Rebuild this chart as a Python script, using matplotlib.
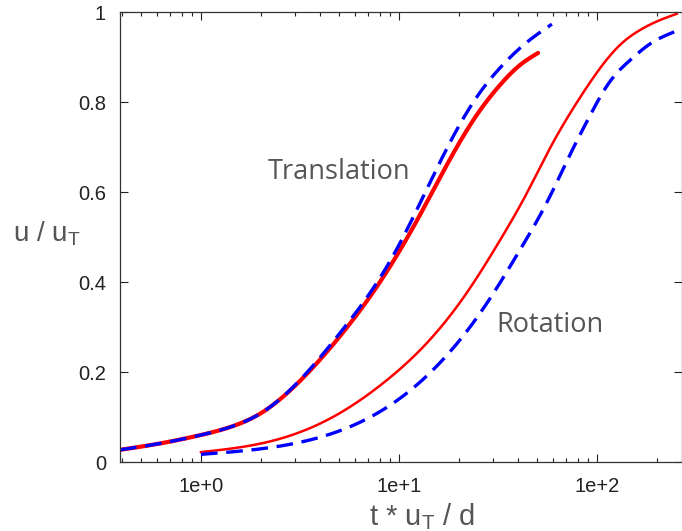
import numpy as np
import matplotlib
matplotlib.use("Agg")
from matplotlib import pyplot as plt, ticker

# translation, red solid (thick)
trans_red_t = [0.39, 0.6, 1.0, 1.5, 2.0, 3.16, 5.0, 8.3, 12.8, 19.6, 25.7, 32.4, 40.8, 50.4]
trans_red_u = [0.027, 0.04, 0.06, 0.082, 0.108, 0.18, 0.278, 0.41, 0.55, 0.70, 0.782, 0.838, 0.882, 0.909]

# translation, blue dashed
trans_blue_t = [0.39, 0.6, 1.0, 1.5, 2.0, 3.16, 5.0, 8.3, 10.5, 14.3, 18.7, 24.7, 32.4, 44.3, 59.2]
trans_blue_u = [0.027, 0.04, 0.06, 0.082, 0.108, 0.182, 0.285, 0.42, 0.50, 0.62, 0.722, 0.811, 0.876, 0.933, 0.973]

# rotation, red solid (thin)
rot_red_t = [1.0, 2.15, 4.64, 8.3, 13.2, 22.0, 32.4, 44.3, 56.7, 82.1, 103.6, 130.8, 165, 208, 253]
rot_red_u = [0.022, 0.044, 0.10, 0.175, 0.255, 0.376, 0.493, 0.598, 0.69, 0.81, 0.875, 0.927, 0.96, 0.982, 0.996]

# rotation, blue dashed
rot_blue_t = [1.0, 2.15, 4.64, 8.3, 14.8, 27.8, 40.8, 55.7, 73.1, 92.2, 116, 147, 185, 246]
rot_blue_u = [0.017, 0.031, 0.064, 0.116, 0.204, 0.353, 0.471, 0.576, 0.683, 0.77, 0.845, 0.893, 0.929, 0.956]

x_ticks = [1, 10, 100]
x_tick_labels = ["1e+0", "1e+1", "1e+2"]
y_ticks = [0, 0.2, 0.4, 0.6, 0.8, 1]
y_tick_labels = ["0", "0.2", "0.4", "0.6", "0.8", "1"]


def spline(t, u, n=400):
    # natural cubic spline through the read points, in log10(t)
    x = np.log10(np.asarray(t, float))
    y = np.asarray(u, float)
    k = len(x)
    h = np.diff(x)
    A = np.zeros((k, k))
    b = np.zeros(k)
    A[0, 0] = A[-1, -1] = 1
    for i in range(1, k - 1):
        A[i, i - 1] = h[i - 1]
        A[i, i] = 2 * (h[i - 1] + h[i])
        A[i, i + 1] = h[i]
        b[i] = 6 * ((y[i + 1] - y[i]) / h[i] - (y[i] - y[i - 1]) / h[i - 1])
    M = np.linalg.solve(A, b)
    xs = np.linspace(x[0], x[-1], n)
    i = np.clip(np.searchsorted(x, xs) - 1, 0, k - 2)
    a = x[i + 1] - xs
    c = xs - x[i]
    ys = (M[i] * a**3 + M[i + 1] * c**3) / (6 * h[i]) \
        + (y[i] / h[i] - M[i] * h[i] / 6) * a + (y[i + 1] / h[i] - M[i + 1] * h[i] / 6) * c
    return 10 ** xs, ys


fig = plt.figure(figsize=(6.82, 5.31), dpi=100)
ax = fig.add_axes([120 / 682, 69 / 531, 562 / 682, 450 / 531])

dash = (0, (5, 2.6))
x, y = spline(trans_red_t, trans_red_u)
ax.plot(x, y, color="#ff0000", lw=3.0, solid_capstyle="round")
x, y = spline(trans_blue_t, trans_blue_u)
ax.plot(x, y, color="#0000ff", lw=2.4, linestyle=dash)
x, y = spline(rot_red_t, rot_red_u)
ax.plot(x, y, color="#ff0000", lw=1.8)
x, y = spline(rot_blue_t, rot_blue_u)
ax.plot(x, y, color="#0000ff", lw=2.4, linestyle=dash)

ax.set_xscale("log")
ax.set_xlim(0.39, 268.7)
ax.set_ylim(0, 1)

ax.xaxis.set_major_locator(ticker.FixedLocator(x_ticks))
ax.xaxis.set_major_formatter(ticker.FixedFormatter(x_tick_labels))
ax.xaxis.set_minor_locator(ticker.LogLocator(base=10, subs=np.arange(2, 10)))
ax.xaxis.set_minor_formatter(ticker.NullFormatter())
ax.set_yticks(y_ticks)
ax.set_yticklabels(y_tick_labels)

ax.tick_params(which="both", direction="in", top=True, right=True, labelsize=14.5,
               colors="#222222", width=0.8)
ax.tick_params(axis="x", pad=11)
ax.tick_params(axis="y", pad=10)
ax.tick_params(which="major", length=6)
ax.tick_params(which="minor", length=3)
for lab in ax.get_xticklabels() + ax.get_yticklabels():
    lab.set_fontfamily("Liberation Sans")
for s in ax.spines.values():
    s.set_linewidth(0.9)
    s.set_color("#333333")

ax.set_xlabel(r"t * u$_\mathregular{T}$ / d", fontsize=21, color="#555555",
              family="Liberation Sans", va="baseline")
ax.xaxis.set_label_coords((422 - 120) / 562, -(525 - 462) / 450)
ax.set_ylabel(r"u / u$_\mathregular{T}$", fontsize=20, color="#555555",
              family="Liberation Sans", rotation=0, va="center", ha="center")
ax.yaxis.set_label_coords(-(120 - 47) / 562, (462 - 234) / 450)

ax.text(2.18, 0.644, "Translation", fontsize=19.5, color="#555555", family="Open Sans",
        va="center", ha="left")
ax.text(31.2, 0.304, "Rotation", fontsize=19.5, color="#555555", family="Open Sans",
        va="center", ha="left")

fig.savefig("out.png", dpi=100)
